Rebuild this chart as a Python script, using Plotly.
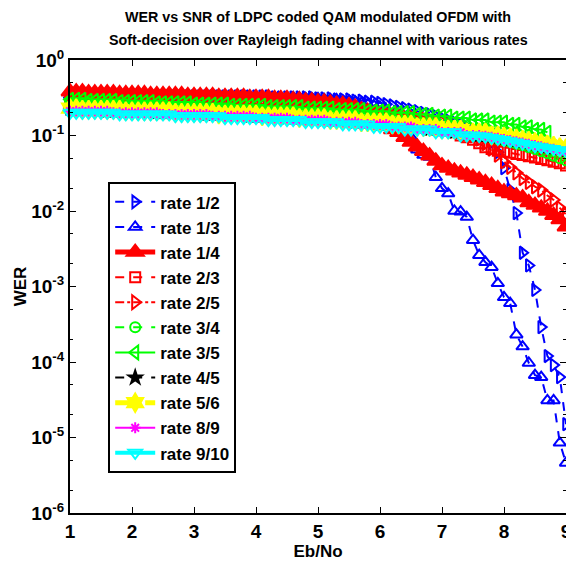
import plotly.graph_objects as go

# Eb/No grid (dB)
ebno = [1.0, 1.1, 1.2, 1.3, 1.4, 1.5, 1.6, 1.7, 1.8, 1.9,
        2.0, 2.1, 2.2, 2.3, 2.4, 2.5, 2.6, 2.7, 2.8, 2.9,
        3.0, 3.1, 3.2, 3.3, 3.4, 3.5, 3.6, 3.7, 3.8, 3.9,
        4.0, 4.1, 4.2, 4.3, 4.4, 4.5, 4.6, 4.7, 4.8, 4.9,
        5.0, 5.1, 5.2, 5.3, 5.4, 5.5, 5.6, 5.7, 5.8, 5.9,
        6.0, 6.1, 6.2, 6.3, 6.4, 6.5, 6.6, 6.7, 6.8, 6.9,
        7.0, 7.1, 7.2, 7.3, 7.4, 7.5, 7.6, 7.7, 7.8, 7.9,
        8.0, 8.1, 8.2, 8.3, 8.4, 8.5, 8.6, 8.7, 8.8, 8.9,
        9.0]

wer_1_2 = [0.34, 0.34, 0.34, 0.34, 0.34, 0.34, 0.34, 0.34, 0.34, 0.33,
           0.33, 0.33, 0.33, 0.33, 0.33, 0.33, 0.33, 0.33, 0.33, 0.33,
           0.33, 0.33, 0.33, 0.33, 0.33, 0.33, 0.33, 0.33, 0.33, 0.33,
           0.33, 0.33, 0.33, 0.32, 0.32, 0.32, 0.32, 0.32, 0.32, 0.32,
           0.31, 0.31, 0.31, 0.30, 0.30, 0.30, 0.29, 0.29, 0.28, 0.28,
           0.27, 0.26, 0.25, 0.24, 0.23, 0.22, 0.21, 0.20, 0.19, 0.18,
           0.17, 0.16, 0.15, 0.14, 0.13, 0.12, 0.11, 0.095, 0.080, 0.060,
           0.037, 0.019, 0.0094, 0.0028, 0.0019, 9.0e-4, 2.9e-4, 1.2e-4, 9.1e-5, 6.3e-5,
           1.5e-5]

wer_1_3 = [0.34, 0.34, 0.34, 0.34, 0.34, 0.34, 0.34, 0.33, 0.33, 0.33,
           0.33, 0.33, 0.33, 0.33, 0.33, 0.33, 0.33, 0.33, 0.33, 0.33,
           0.33, 0.33, 0.33, 0.33, 0.33, 0.33, 0.33, 0.33, 0.32, 0.32,
           0.32, 0.32, 0.32, 0.32, 0.32, 0.32, 0.32, 0.31, 0.31, 0.31,
           0.31, 0.30, 0.30, 0.30, 0.29, 0.29, 0.28, 0.27, 0.26, 0.25,
           0.24, 0.22, 0.19, 0.16, 0.12, 0.095, 0.065, 0.055, 0.052, 0.028,
           0.020, 0.017, 0.010, 0.0098, 0.0083, 0.0041, 0.0026, 0.0021, 0.0018, 0.0011,
           7.2e-4, 6.0e-4, 2.3e-4, 1.6e-4, 9.7e-5, 6.7e-5, 6.3e-5, 3.1e-5, 3.1e-5, 8.5e-6,
           4.6e-6]

wer_1_4 = [0.38, 0.38, 0.38, 0.37, 0.37, 0.37, 0.37, 0.37, 0.36, 0.36,
           0.36, 0.36, 0.36, 0.35, 0.35, 0.35, 0.35, 0.35, 0.35, 0.34,
           0.34, 0.34, 0.34, 0.34, 0.33, 0.33, 0.33, 0.33, 0.33, 0.32,
           0.32, 0.32, 0.32, 0.31, 0.31, 0.31, 0.30, 0.30, 0.29, 0.29,
           0.28, 0.28, 0.27, 0.26, 0.26, 0.25, 0.24, 0.22, 0.21, 0.19,
           0.16, 0.14, 0.12, 0.11, 0.095, 0.082, 0.071, 0.062, 0.054, 0.046,
           0.040, 0.037, 0.034, 0.032, 0.030, 0.028, 0.026, 0.024, 0.022, 0.020,
           0.018, 0.017, 0.016, 0.015, 0.013, 0.012, 0.011, 0.010, 0.0088, 0.0077,
           0.0062]

wer_2_3 = [0.30, 0.30, 0.30, 0.30, 0.29, 0.29, 0.29, 0.29, 0.29, 0.29,
           0.29, 0.28, 0.28, 0.28, 0.28, 0.28, 0.28, 0.27, 0.27, 0.27,
           0.27, 0.27, 0.27, 0.26, 0.26, 0.26, 0.26, 0.26, 0.26, 0.25,
           0.25, 0.25, 0.25, 0.25, 0.24, 0.24, 0.24, 0.24, 0.23, 0.23,
           0.23, 0.23, 0.22, 0.22, 0.22, 0.21, 0.21, 0.21, 0.20, 0.20,
           0.19, 0.18, 0.18, 0.17, 0.17, 0.16, 0.16, 0.15, 0.14, 0.14,
           0.13, 0.12, 0.11, 0.10, 0.095, 0.088, 0.079, 0.070, 0.066, 0.063,
           0.061, 0.059, 0.057, 0.055, 0.053, 0.051, 0.049, 0.047, 0.045, 0.043,
           0.040]

wer_2_5 = [0.31, 0.31, 0.31, 0.31, 0.30, 0.30, 0.30, 0.30, 0.30, 0.30,
           0.29, 0.29, 0.29, 0.29, 0.29, 0.29, 0.28, 0.28, 0.28, 0.28,
           0.28, 0.28, 0.27, 0.27, 0.27, 0.27, 0.27, 0.27, 0.26, 0.26,
           0.26, 0.26, 0.26, 0.25, 0.25, 0.25, 0.25, 0.24, 0.24, 0.24,
           0.24, 0.23, 0.23, 0.23, 0.22, 0.22, 0.22, 0.21, 0.21, 0.20,
           0.20, 0.20, 0.19, 0.19, 0.18, 0.18, 0.17, 0.17, 0.16, 0.15,
           0.15, 0.14, 0.13, 0.12, 0.11, 0.10, 0.090, 0.078, 0.066, 0.055,
           0.045, 0.038, 0.032, 0.027, 0.024, 0.021, 0.019, 0.016, 0.014, 0.011,
           0.0090]

wer_3_4 = [0.27, 0.27, 0.27, 0.27, 0.26, 0.26, 0.26, 0.26, 0.26, 0.26,
           0.25, 0.25, 0.25, 0.25, 0.25, 0.25, 0.24, 0.24, 0.24, 0.24,
           0.24, 0.24, 0.23, 0.23, 0.23, 0.23, 0.23, 0.22, 0.22, 0.22,
           0.22, 0.22, 0.21, 0.21, 0.21, 0.21, 0.20, 0.20, 0.20, 0.20,
           0.19, 0.19, 0.19, 0.19, 0.18, 0.18, 0.18, 0.17, 0.17, 0.17,
           0.16, 0.16, 0.16, 0.15, 0.15, 0.15, 0.14, 0.14, 0.13, 0.13,
           0.13, 0.12, 0.12, 0.11, 0.11, 0.11, 0.10, 0.098, 0.094, 0.090,
           0.086, 0.082, 0.078, 0.074, 0.070, 0.066, 0.062, 0.058, 0.054, 0.050,
           0.047]

# rate 3/5 stops at 8.7 dB
wer_3_5 = [0.30, 0.30, 0.30, 0.29, 0.29, 0.29, 0.29, 0.29, 0.28, 0.28,
           0.28, 0.28, 0.28, 0.28, 0.27, 0.27, 0.27, 0.27, 0.27, 0.27,
           0.26, 0.26, 0.26, 0.26, 0.26, 0.26, 0.25, 0.25, 0.25, 0.25,
           0.25, 0.25, 0.24, 0.24, 0.24, 0.24, 0.24, 0.24, 0.23, 0.23,
           0.23, 0.23, 0.23, 0.22, 0.22, 0.22, 0.22, 0.22, 0.21, 0.21,
           0.21, 0.21, 0.20, 0.20, 0.20, 0.20, 0.19, 0.19, 0.19, 0.18,
           0.18, 0.18, 0.17, 0.17, 0.17, 0.16, 0.16, 0.16, 0.15, 0.15,
           0.15, 0.14, 0.14, 0.13, 0.13, 0.12, 0.12, 0.11]

wer_4_5 = [0.22, 0.22, 0.22, 0.22, 0.22, 0.22, 0.21, 0.21, 0.21, 0.21,
           0.21, 0.21, 0.21, 0.21, 0.20, 0.20, 0.20, 0.20, 0.20, 0.20,
           0.20, 0.20, 0.19, 0.19, 0.19, 0.19, 0.19, 0.19, 0.19, 0.18,
           0.18, 0.18, 0.18, 0.18, 0.18, 0.17, 0.17, 0.17, 0.17, 0.17,
           0.17, 0.16, 0.16, 0.16, 0.16, 0.16, 0.15, 0.15, 0.15, 0.15,
           0.14, 0.14, 0.14, 0.14, 0.13, 0.13, 0.13, 0.13, 0.12, 0.12,
           0.12, 0.12, 0.11, 0.11, 0.11, 0.11, 0.10, 0.10, 0.098, 0.095,
           0.092, 0.089, 0.086, 0.083, 0.080, 0.077, 0.074, 0.071, 0.068, 0.066,
           0.063]

wer_5_6 = [0.23, 0.23, 0.22, 0.22, 0.22, 0.22, 0.22, 0.22, 0.22, 0.21,
           0.21, 0.21, 0.21, 0.21, 0.21, 0.21, 0.21, 0.20, 0.20, 0.20,
           0.20, 0.20, 0.20, 0.20, 0.19, 0.19, 0.19, 0.19, 0.19, 0.19,
           0.19, 0.18, 0.18, 0.18, 0.18, 0.18, 0.18, 0.17, 0.17, 0.17,
           0.17, 0.17, 0.16, 0.16, 0.16, 0.16, 0.16, 0.15, 0.15, 0.15,
           0.15, 0.15, 0.14, 0.14, 0.14, 0.14, 0.13, 0.13, 0.13, 0.13,
           0.12, 0.12, 0.12, 0.12, 0.11, 0.11, 0.11, 0.11, 0.10, 0.10,
           0.097, 0.094, 0.091, 0.088, 0.085, 0.082, 0.079, 0.076, 0.073, 0.070,
           0.068]

wer_8_9 = [0.21, 0.21, 0.21, 0.21, 0.21, 0.21, 0.21, 0.20, 0.20, 0.20,
           0.20, 0.20, 0.20, 0.20, 0.20, 0.19, 0.19, 0.19, 0.19, 0.19,
           0.19, 0.19, 0.19, 0.18, 0.18, 0.18, 0.18, 0.18, 0.18, 0.18,
           0.17, 0.17, 0.17, 0.17, 0.17, 0.17, 0.16, 0.16, 0.16, 0.16,
           0.16, 0.16, 0.15, 0.15, 0.15, 0.15, 0.15, 0.14, 0.14, 0.14,
           0.14, 0.14, 0.13, 0.13, 0.13, 0.13, 0.12, 0.12, 0.12, 0.12,
           0.11, 0.11, 0.11, 0.11, 0.10, 0.10, 0.10, 0.098, 0.095, 0.092,
           0.089, 0.086, 0.083, 0.080, 0.077, 0.074, 0.071, 0.068, 0.066, 0.063,
           0.061]

wer_9_10 = [0.20, 0.20, 0.20, 0.20, 0.20, 0.20, 0.20, 0.20, 0.19, 0.19,
            0.19, 0.19, 0.19, 0.19, 0.19, 0.19, 0.19, 0.18, 0.18, 0.18,
            0.18, 0.18, 0.18, 0.18, 0.18, 0.17, 0.17, 0.17, 0.17, 0.17,
            0.17, 0.17, 0.16, 0.16, 0.16, 0.16, 0.16, 0.16, 0.15, 0.15,
            0.15, 0.15, 0.15, 0.15, 0.14, 0.14, 0.14, 0.14, 0.14, 0.13,
            0.13, 0.13, 0.13, 0.13, 0.12, 0.12, 0.12, 0.12, 0.12, 0.11,
            0.11, 0.11, 0.11, 0.10, 0.10, 0.10, 0.098, 0.096, 0.093, 0.090,
            0.087, 0.084, 0.081, 0.078, 0.075, 0.072, 0.070, 0.068, 0.066, 0.064,
            0.062]

ytick_vals = [1, 1e-1, 1e-2, 1e-3, 1e-4, 1e-5, 1e-6]
ytick_text = ['10<sup>0</sup>', '10<sup>-1</sup>', '10<sup>-2</sup>', '10<sup>-3</sup>',
              '10<sup>-4</sup>', '10<sup>-5</sup>', '10<sup>-6</sup>']
xtick_vals = [1, 2, 3, 4, 5, 6, 7, 8, 9]

# name, values, color, dash, line width, marker symbol, marker size
series = [
    ('rate 1/2', wer_1_2, 'rgb(0,0,255)', 'dash', 2, 'triangle-right-open', 11),
    ('rate 1/3', wer_1_3, 'rgb(0,0,255)', 'dash', 2, 'triangle-up-open', 11),
    ('rate 1/4', wer_1_4, 'rgb(255,0,0)', 'solid', 5, 'triangle-up', 15),
    ('rate 2/3', wer_2_3, 'rgb(255,0,0)', 'dash', 2, 'square-open', 10),
    ('rate 2/5', wer_2_5, 'rgb(255,0,0)', 'dashdot', 2, 'triangle-right-open', 12),
    ('rate 3/4', wer_3_4, 'rgb(0,255,0)', 'dash', 2, 'circle-open', 10),
    ('rate 3/5', wer_3_5, 'rgb(0,255,0)', 'solid', 2, 'triangle-left-open', 12),
    ('rate 4/5', wer_4_5, 'rgb(0,0,0)', 'dash', 2, 'star', 10),
    ('rate 5/6', wer_5_6, 'rgb(255,255,0)', 'dash', 5, 'hexagram', 14),
    ('rate 8/9', wer_8_9, 'rgb(255,0,255)', 'solid', 2, 'asterisk-open', 9),
    ('rate 9/10', wer_9_10, 'rgb(0,255,255)', 'solid', 4, 'triangle-down-open', 12),
]

fig = go.Figure()
for i, (name, vals, color, dash, lw, sym, size) in enumerate(series):
    fig.add_trace(go.Scatter(
        x=ebno[:len(vals)], y=vals, name='<b>%s</b>' % name, mode='lines+markers',
        line=dict(color=color, dash=dash, width=lw),
        marker=dict(symbol=sym, size=size, color=color, line=dict(color=color, width=2)),
        cliponaxis=False, legendgroup='g%d' % i))

font_family = 'Liberation Sans, Arial, sans-serif'

# two-line title, placed line by line above the axes
fig.add_annotation(text='<b>WER vs SNR of LDPC coded QAM modulated OFDM with</b>',
                   xref='paper', yref='paper', x=0.5, y=1.095, yanchor='middle',
                   showarrow=False, font=dict(size=14.3))
fig.add_annotation(text='<b>Soft-decision over Rayleigh fading channel with various rates</b>',
                   xref='paper', yref='paper', x=0.5, y=1.044, yanchor='middle',
                   showarrow=False, font=dict(size=14.3))

# the page body adds an 8px offset, so the margins are shifted to compensate
fig.update_layout(
    width=574, height=561,
    margin=dict(l=62, r=16, t=52, b=56),
    paper_bgcolor='white', plot_bgcolor='white',
    font=dict(family=font_family, size=16, color='black'),
    showlegend=True,
    legend=dict(x=0.077, y=0.73, xanchor='left', yanchor='top',
                bgcolor='white', bordercolor='black', borderwidth=2,
                itemwidth=40, tracegroupgap=0, font=dict(size=17, family=font_family)),
)

fig.update_xaxes(range=[1, 9], tickvals=xtick_vals,
                 ticktext=['<b>%d</b>' % v for v in xtick_vals], tickfont=dict(size=19),
                 showline=True, linecolor='black', linewidth=2, mirror='ticks',
                 ticks='inside', ticklen=6, tickcolor='black', showgrid=False, zeroline=False,
                 automargin=False,
                 title=dict(text='<b>Eb/No</b>', standoff=4, font=dict(size=17)))

fig.update_yaxes(type='log', range=[-6, 0], tickvals=ytick_vals,
                 ticktext=['<b>%s</b>' % t for t in ytick_text], tickfont=dict(size=19),
                 showline=True, linecolor='black', linewidth=2, mirror='ticks',
                 ticks='inside', ticklen=6, tickcolor='black', showgrid=False,
                 minor=dict(ticks='inside', ticklen=3, tickcolor='black', showgrid=False),
                 automargin=False,
                 title=dict(text='<b>WER</b>', standoff=0, font=dict(size=17)))

fig.write_html('out.html')
